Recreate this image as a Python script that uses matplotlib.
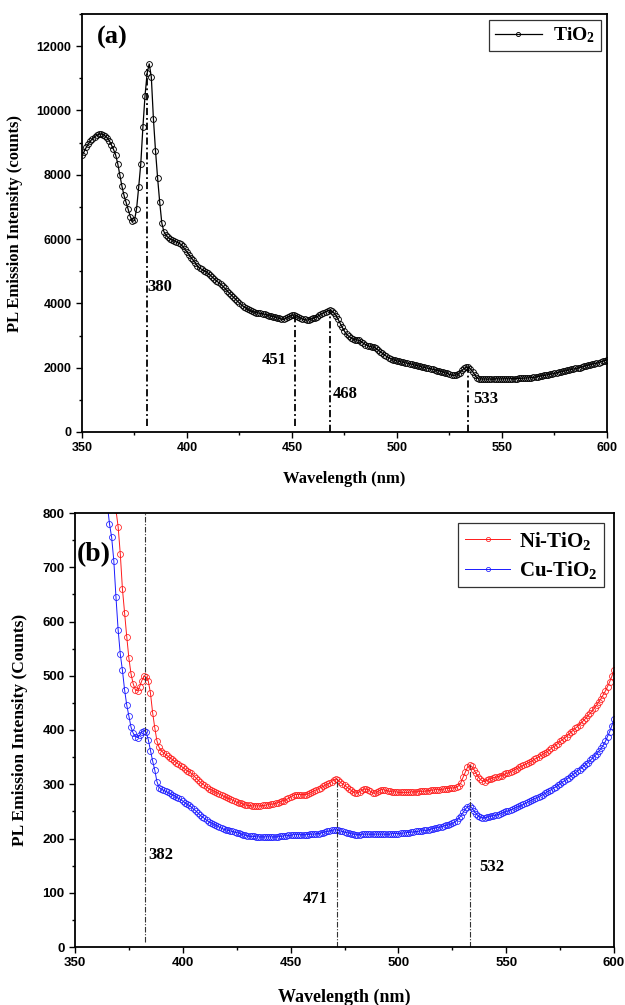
import matplotlib
matplotlib.use("Agg")
import matplotlib.pyplot as plt
from matplotlib.ticker import MultipleLocator
import numpy as np

plt.rcParams['mathtext.default'] = 'regular'

# ---------------- data: panel (a) TiO2 ----------------
wl_a = list(range(350, 601))
tio2 = [
    8600, 8720, 8850, 8960, 9050, 9120, 9180, 9230, 9260, 9270,   # 350-359
    9250, 9210, 9150, 9060, 8930, 8790, 8620, 8350, 8000, 7650,   # 360-369
    7360, 7140, 6930, 6700, 6550, 6580, 6950, 7620, 8350, 9480,   # 370-379
    10450, 11150, 11450, 11050, 9750, 8750, 7900, 7150, 6500, 6230,  # 380-389
    6120, 6050, 6000, 5970, 5940, 5910, 5880, 5840, 5770, 5680,   # 390-399
    5600, 5510, 5420, 5340, 5260, 5150, 5100, 5060, 5020, 4990,   # 400-409
    4940, 4880, 4820, 4760, 4700, 4650, 4600, 4540, 4470, 4400,   # 410-419
    4330, 4270, 4200, 4140, 4070, 4010, 3950, 3900, 3860, 3810,   # 420-429
    3780, 3750, 3730, 3710, 3700, 3690, 3680, 3660, 3640, 3620,   # 430-439
    3600, 3590, 3570, 3550, 3530, 3510, 3500, 3530, 3570, 3600,   # 440-449
    3630, 3640, 3620, 3580, 3540, 3510, 3500, 3480, 3490, 3510,   # 450-459
    3530, 3560, 3590, 3630, 3670, 3710, 3740, 3770, 3790, 3760,   # 460-469
    3700, 3620, 3500, 3370, 3250, 3130, 3040, 2980, 2930, 2890,   # 470-479
    2870, 2860, 2850, 2810, 2760, 2720, 2690, 2660, 2650, 2630,   # 480-489
    2600, 2550, 2500, 2450, 2400, 2350, 2310, 2280, 2250, 2230,   # 490-499
    2210, 2200, 2180, 2170, 2150, 2140, 2130, 2110, 2090, 2070,   # 500-509
    2060, 2040, 2020, 2010, 1990, 1980, 1970, 1950, 1930, 1910,   # 510-519
    1900, 1880, 1860, 1840, 1820, 1790, 1770, 1760, 1770, 1790,   # 520-529
    1850, 1920, 1980, 2010, 2030, 1960, 1880, 1780, 1690, 1650,   # 530-539
    1650, 1645, 1650, 1640, 1650, 1645, 1650, 1655, 1650, 1648,   # 540-549
    1650, 1652, 1655, 1650, 1658, 1660, 1655, 1662, 1665, 1668,   # 550-559
    1670, 1675, 1680, 1685, 1690, 1700, 1710, 1720, 1735, 1745,   # 560-569
    1760, 1770, 1780, 1795, 1810, 1825, 1840, 1855, 1870, 1885,   # 570-579
    1900, 1915, 1930, 1945, 1960, 1975, 1990, 2005, 2020, 2040,   # 580-589
    2060, 2075, 2090, 2110, 2125, 2140, 2160, 2180, 2200, 2220,   # 590-599
    2250,                                                         # 600
]
peaks_a = [380.8, 451.3, 468.1, 534.0]
peak_labels_a = ['380', '451', '468', '533']
peak_top_a = [11300, 3620, 3780, 2010]
peak_bottom_a = [200, 200, 0, 0]

# ---------------- data: panel (b) Ni-TiO2 / Cu-TiO2 ----------------
wl_ni = list(range(367, 601))
ni_tio2 = [
    880, 840, 805,                                                # 367-369
    775, 725, 660, 615, 572, 532, 503, 485, 474, 472,             # 370-379
    480, 491, 499, 498, 490, 468, 432, 404, 380, 368,             # 380-389
    362, 358, 355, 352, 349, 346, 343, 340, 337, 334,             # 390-399
    331, 328, 325, 323, 320, 316, 312, 308, 304, 301,             # 400-409
    298, 295, 292, 290, 288, 286, 284, 282, 280, 278,             # 410-419
    276, 274, 273, 271, 269, 267, 266, 265, 263, 262,             # 420-429
    261, 261, 260, 260, 260, 260, 260, 261, 261, 262,             # 430-439
    262, 263, 264, 265, 266, 267, 269, 270, 272, 274,             # 440-449
    277, 279, 281, 281, 281, 281, 281, 281, 282, 284,             # 450-459
    286, 288, 290, 292, 294, 296, 298, 300, 302, 305,             # 460-469
    308, 310, 307, 304, 301, 298, 295, 292, 289, 286,             # 470-479
    284, 284, 286, 289, 291, 291, 290, 287, 284, 283,             # 480-489
    285, 288, 290, 290, 289, 288, 287, 286, 286, 286,             # 490-499
    285, 285, 285, 285, 285, 285, 286, 286, 286, 286,             # 500-509
    287, 287, 287, 288, 288, 289, 289, 290, 290, 290,             # 510-519
    291, 291, 292, 292, 293, 293, 294, 295, 297, 303,             # 520-529
    313, 322, 331, 335, 333, 327, 320, 314, 309, 306,             # 530-539
    305, 307, 309, 310, 312, 313, 314, 315, 316, 318,             # 540-549
    320, 321, 323, 325, 327, 329, 331, 333, 335, 337,             # 550-559
    339, 341, 343, 346, 348, 350, 353, 355, 358, 360,             # 560-569
    363, 366, 369, 372, 375, 379, 382, 385, 388, 392,             # 570-579
    396, 399, 403, 406, 410, 414, 418, 422, 427, 431,             # 580-589
    436, 441, 446, 452, 458, 465, 472, 480, 489, 499,             # 590-599
    510,                                                          # 600
]
wl_cu = list(range(364, 601))
cu_tio2 = [
    870, 815, 780, 755, 712, 645,                                 # 364-369
    585, 540, 510, 474, 446, 425, 405, 394, 388, 386,             # 370-379
    390, 397, 399, 396, 382, 362, 343, 326, 305, 294,             # 380-389
    291, 289, 287, 285, 283, 281, 279, 276, 274, 272,             # 390-399
    269, 266, 263, 261, 258, 254, 251, 247, 243, 240,             # 400-409
    237, 234, 231, 229, 227, 225, 223, 221, 219, 217,             # 410-419
    216, 215, 214, 213, 212, 211, 210, 208, 207, 206,             # 420-429
    205, 204, 204, 204, 203, 203, 203, 203, 203, 203,             # 430-439
    203, 203, 203, 203, 203, 204, 204, 205, 205, 206,             # 440-449
    206, 207, 207, 207, 207, 207, 207, 207, 207, 208,             # 450-459
    208, 208, 209, 209, 210, 211, 212, 213, 214, 215,             # 460-469
    216, 216, 215, 214, 213, 212, 211, 210, 209, 208,             # 470-479
    207, 207, 207, 208, 208, 208, 208, 208, 208, 208,             # 480-489
    208, 208, 208, 208, 208, 208, 208, 209, 209, 209,             # 490-499
    209, 210, 210, 210, 211, 211, 212, 212, 213, 213,             # 500-509
    214, 214, 215, 215, 216, 217, 218, 219, 220, 221,             # 510-519
    222, 223, 224, 225, 226, 228, 230, 233, 237, 242,             # 520-529
    248, 254, 258, 260, 257, 251, 246, 242, 239, 238,             # 530-539
    238, 239, 240, 241, 242, 243, 244, 245, 247, 248,             # 540-549
    250, 251, 253, 254, 256, 258, 259, 261, 263, 265,             # 550-559
    267, 269, 271, 273, 275, 277, 279, 281, 283, 286,             # 560-569
    288, 290, 293, 295, 298, 301, 304, 306, 309, 312,             # 570-579
    315, 318, 321, 324, 327, 330, 333, 337, 340, 344,             # 580-589
    348, 352, 356, 361, 366, 372, 379, 388, 397, 408,             # 590-599
    420,                                                          # 600
]
peaks_b = [382.6, 471.5, 533.1]
peak_labels_b = ['382', '471', '532']
peak_top_b = [800, 310, 335]
peak_bottom_b = [10, 0, 0]

# ---------------- figure ----------------
W, H = 625, 1005
fig = plt.figure(figsize=(W / 100, H / 100), dpi=100)

serif_bold = dict(family='Liberation Serif', weight='bold')
tick_font = 'Liberation Sans'


def style_axes(ax, tick_size):
    for s in ax.spines.values():
        s.set_linewidth(1.3)
    ax.tick_params(which='both', direction='out', top=False, right=False, width=1.0)
    ax.tick_params(which='major', length=4.5, pad=3, labelsize=tick_size)
    ax.tick_params(which='minor', length=2.5)
    for lab in ax.get_xticklabels() + ax.get_yticklabels():
        lab.set_fontfamily(tick_font)
        lab.set_fontweight('bold')


# ---- panel (a) ----
ax1 = fig.add_axes([82 / W, 1 - 432 / H, 525 / W, 418 / H])
ax1.plot(wl_a, tio2, color='black', lw=0.9, marker='o', ms=4.2,
         mfc='none', mec='black', mew=0.65, label='TiO$_2$')
for xp, yt, yb in zip(peaks_a, peak_top_a, peak_bottom_a):
    ax1.plot([xp, xp], [yb, yt], color='black', lw=1.3,
             dashes=(4, 1.6, 1, 1.6))
ax1.set_xlim(350, 600)
ax1.set_ylim(0, 13000)
ax1.xaxis.set_major_locator(MultipleLocator(50))
ax1.xaxis.set_minor_locator(MultipleLocator(25))
ax1.yaxis.set_major_locator(MultipleLocator(2000))
ax1.yaxis.set_minor_locator(MultipleLocator(1000))
style_axes(ax1, 9)
ax1.set_xlabel('Wavelength (nm)', fontsize=12, labelpad=12, **serif_bold)
ax1.set_ylabel('PL Emission Intensity (counts)', fontsize=12, labelpad=10, **serif_bold)

ax1.text(peaks_a[0] + 0.4, 4495, peak_labels_a[0], ha='left', va='center', fontsize=12, **serif_bold)
ax1.text(peaks_a[1] - 3.6, 2250, peak_labels_a[1], ha='right', va='center', fontsize=12, **serif_bold)
ax1.text(peaks_a[2] + 1.4, 1194, peak_labels_a[2], ha='left', va='center', fontsize=12, **serif_bold)
ax1.text(peaks_a[3] + 2.4, 1038, peak_labels_a[3], ha='left', va='center', fontsize=12, **serif_bold)
ax1.text(0.028, 0.943, '(a)', transform=ax1.transAxes, ha='left', va='center',
         fontsize=19, **serif_bold)

leg1 = ax1.legend(loc='upper right', prop=dict(family='Liberation Serif', weight='bold', size=14),
                  frameon=True, fancybox=False, handlelength=2.4, handletextpad=0.6,
                  borderpad=0.3, borderaxespad=0.3, markerscale=0.7)
leg1.get_frame().set_edgecolor('black')
leg1.get_frame().set_linewidth(0.9)

# ---- panel (b) ----
ax2 = fig.add_axes([75 / W, 1 - 947 / H, 539 / W, 434 / H])
ax2.plot(wl_ni, ni_tio2, color='#ff1a1a', lw=0.7, marker='o', ms=4.3,
         mfc='none', mec='#ff1a1a', mew=0.55, label='Ni-TiO$_2$')
ax2.plot(wl_cu, cu_tio2, color='#1a1aff', lw=0.7, marker='o', ms=4.3,
         mfc='none', mec='#1a1aff', mew=0.55, label='Cu-TiO$_2$')
for xp, yt, yb in zip(peaks_b, peak_top_b, peak_bottom_b):
    ax2.plot([xp, xp], [yb, yt], color='#333333', lw=0.8,
             dashes=(5, 1.5, 1, 1.5))
ax2.set_xlim(350, 600)
ax2.set_ylim(0, 800)
ax2.xaxis.set_major_locator(MultipleLocator(50))
ax2.xaxis.set_minor_locator(MultipleLocator(25))
ax2.yaxis.set_major_locator(MultipleLocator(100))
ax2.yaxis.set_minor_locator(MultipleLocator(50))
style_axes(ax2, 9.5)
ax2.set_xlabel('Wavelength (nm)', fontsize=13, labelpad=14, **serif_bold)
ax2.set_ylabel('PL Emission Intensity (Counts)', fontsize=12.5, labelpad=10, **serif_bold)

ax2.text(peaks_b[0] + 1.4, 170, peak_labels_b[0], ha='left', va='center', fontsize=12, **serif_bold)
ax2.text(peaks_b[1] - 4.5, 88, peak_labels_b[1], ha='right', va='center', fontsize=12, **serif_bold)
ax2.text(peaks_b[2] + 4.3, 147, peak_labels_b[2], ha='left', va='center', fontsize=12, **serif_bold)
ax2.text(0.003, 0.903, '(b)', transform=ax2.transAxes, ha='left', va='center',
         fontsize=20, **serif_bold)

leg2 = ax2.legend(loc='upper right', prop=dict(family='Liberation Serif', weight='bold', size=15),
                  frameon=True, fancybox=False, handlelength=2.2, handletextpad=0.4,
                  borderpad=0.3, borderaxespad=0.5, labelspacing=0.35, markerscale=0.7)
leg2.get_frame().set_edgecolor('black')
leg2.get_frame().set_linewidth(0.9)

fig.savefig('out.png', dpi=100)
